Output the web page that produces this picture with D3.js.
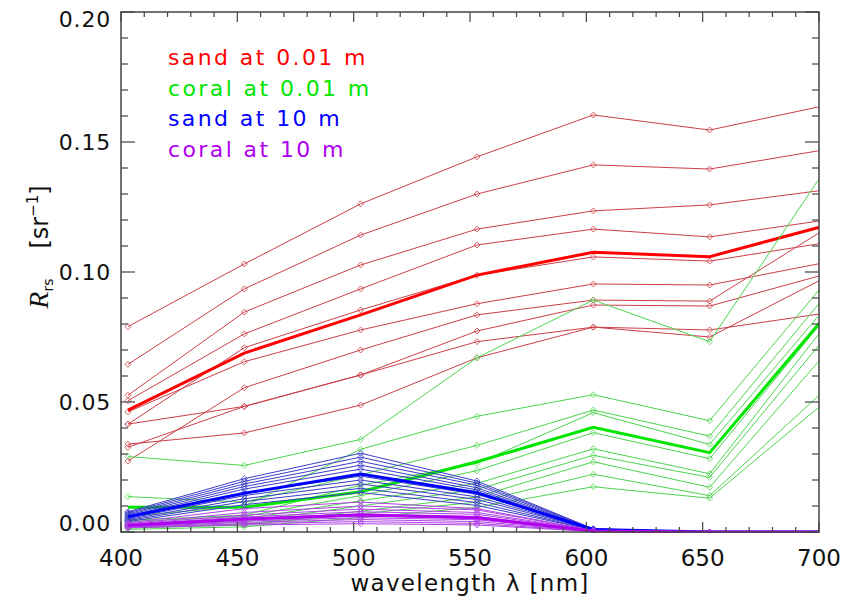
<!DOCTYPE html>
<html>
<head>
<meta charset="utf-8">
<script src="https://cdn.jsdelivr.net/npm/d3@7"></script>
<style>
  body { margin: 0; background: #fff; }
  svg text { font-family: "DejaVu Sans ExtraLight", "DejaVu Sans", sans-serif; }
</style>
</head>
<body>
<svg id="chart" width="845" height="603"></svg>
<script>
// band centres (nm); the last one sits just past the axis and gets clipped
var wavelengths = [403, 453, 503, 553, 603, 653, 703];
var xTicks = [400, 450, 500, 550, 600, 650, 700];
var yTicks = [0.00, 0.05, 0.10, 0.15, 0.20];

// sand at 0.01 m
var sandShallow = [
  [0.0790, 0.1031, 0.1262, 0.1443, 0.1604, 0.1546, 0.1641],
  [0.0645, 0.0935, 0.1142, 0.1300, 0.1412, 0.1396, 0.1471],
  [0.0526, 0.0846, 0.1027, 0.1165, 0.1235, 0.1258, 0.1316],
  [0.0505, 0.0762, 0.0935, 0.1104, 0.1165, 0.1135, 0.1200],
  [0.0415, 0.0709, 0.0854, 0.0988, 0.1058, 0.1042, 0.1113],
  [0.0462, 0.0655, 0.0777, 0.0878, 0.0954, 0.0950, 0.1037],
  [0.0273, 0.0555, 0.0700, 0.0835, 0.0892, 0.0888, 0.1167],
  [0.0415, 0.0483, 0.0604, 0.0773, 0.0873, 0.0869, 0.0992],
  [0.0326, 0.0483, 0.0604, 0.0732, 0.0788, 0.0777, 0.0842],
  [0.0338, 0.0381, 0.0488, 0.0670, 0.0788, 0.0750, 0.0980]
];
var sandShallowMean = [0.0469, 0.0688, 0.0835, 0.0988, 0.1076, 0.1059, 0.1179];

// coral at 0.01 m
var coralShallow = [
  [0.0290, 0.0256, 0.0356, 0.0670, 0.0892, 0.0732, 0.1398],
  [0.0060, 0.0100, 0.0318, 0.0445, 0.0528, 0.0428, 0.0963],
  [0.0136, 0.0115, 0.0220, 0.0333, 0.0469, 0.0369, 0.0911],
  [0.0045, 0.0065, 0.0180, 0.0264, 0.0459, 0.0337, 0.0865],
  [0.0040, 0.0060, 0.0140, 0.0236, 0.0382, 0.0282, 0.0826],
  [0.0030, 0.0050, 0.0120, 0.0187, 0.0320, 0.0224, 0.0797],
  [0.0025, 0.0040, 0.0100, 0.0164, 0.0295, 0.0210, 0.0751],
  [0.0020, 0.0030, 0.0080, 0.0135, 0.0270, 0.0172, 0.0689],
  [0.0015, 0.0027, 0.0070, 0.0115, 0.0222, 0.0140, 0.0550],
  [0.0010, 0.0020, 0.0055, 0.0095, 0.0174, 0.0130, 0.0503]
];
var coralShallowMean = [0.0095, 0.0095, 0.0155, 0.0270, 0.0403, 0.0305, 0.0833];

// sand at 10 m
var sandDeep = [
  [0.0078, 0.0205, 0.0303, 0.0196, 0.0012, 0, 0],
  [0.0074, 0.0195, 0.0288, 0.0188, 0.0012, 0, 0],
  [0.0070, 0.0185, 0.0272, 0.0180, 0.0011, 0, 0],
  [0.0066, 0.0175, 0.0257, 0.0170, 0.0011, 0, 0],
  [0.0062, 0.0165, 0.0242, 0.0162, 0.0010, 0, 0],
  [0.0056, 0.0150, 0.0215, 0.0145, 0.0010, 0, 0],
  [0.0052, 0.0140, 0.0200, 0.0135, 0.0009, 0, 0],
  [0.0048, 0.0128, 0.0185, 0.0125, 0.0009, 0, 0],
  [0.0044, 0.0117, 0.0168, 0.0113, 0.0008, 0, 0],
  [0.0040, 0.0105, 0.0152, 0.0102, 0.0008, 0, 0]
];
var sandDeepMean = [0.0059, 0.0149, 0.0223, 0.0151, 0.0010, 0, 0];

// coral at 10 m
var coralDeep = [
  [0.0035, 0.0090, 0.0115, 0.0090, 0.0006, 0, 0],
  [0.0032, 0.0075, 0.0100, 0.0085, 0.0006, 0, 0],
  [0.0030, 0.0065, 0.0088, 0.0075, 0.0005, 0, 0],
  [0.0028, 0.0058, 0.0078, 0.0068, 0.0005, 0, 0],
  [0.0026, 0.0052, 0.0070, 0.0060, 0.0004, 0, 0],
  [0.0024, 0.0047, 0.0062, 0.0053, 0.0004, 0, 0],
  [0.0022, 0.0042, 0.0055, 0.0047, 0.0003, 0, 0],
  [0.0020, 0.0037, 0.0048, 0.0040, 0.0003, 0, 0],
  [0.0018, 0.0032, 0.0040, 0.0033, 0.0002, 0, 0],
  [0.0016, 0.0027, 0.0032, 0.0027, 0.0002, 0, 0]
];
var coralDeepMean = [0.0025, 0.0050, 0.0065, 0.0055, 0.0004, 0, 0];

var legendLabels = ["sand at 0.01 m", "coral at 0.01 m", "sand at 10 m", "coral at 10 m"];

var groups = [
  {thin: sandShallow, mean: sandShallowMean, thinColor: "#cc3f48", color: "#ff0000"},
  {thin: coralShallow, mean: coralShallowMean, thinColor: "#4cd44c", color: "#00e600"},
  {thin: sandDeep, mean: sandDeepMean, thinColor: "#3c3cc8", color: "#0000ff"},
  {thin: coralDeep, mean: coralDeepMean, thinColor: "#b040e8", color: "#b000f0"}
];

var L = 121, R = 819, T = 12, B = 532;
var svg = d3.select("#chart");

var x = d3.scaleLinear().domain([400, 700]).range([L, R]);
var y = d3.scaleLinear().domain([0, 0.2]).range([B, T]);

svg.append("clipPath").attr("id", "plotclip")
  .append("rect").attr("x", L).attr("y", T - 2).attr("width", R - L).attr("height", B - T + 3);

var plot = svg.append("g").attr("clip-path", "url(#plotclip)");

var line = d3.line()
  .x(function(d, i) { return x(wavelengths[i]); })
  .y(function(d) { return y(d); });

groups.forEach(function(gr) {
  var g = plot.append("g");
  gr.thin.forEach(function(s) {
    g.append("path").attr("d", line(s))
      .attr("fill", "none").attr("stroke", gr.thinColor).attr("stroke-width", 1);
    g.selectAll(null).data(s).enter().append("path")
      .attr("d", "M0,-3L3,0L0,3L-3,0Z")
      .attr("transform", function(d, i) { return "translate(" + x(wavelengths[i]) + "," + y(d) + ")"; })
      .attr("fill", "none").attr("stroke", gr.thinColor).attr("stroke-width", 0.8);
  });
  g.append("path").attr("d", line(gr.mean))
    .attr("fill", "none").attr("stroke", gr.color).attr("stroke-width", 3);
});

// frame and ticks
var axisColor = "#444";
svg.append("rect").attr("x", L).attr("y", T).attr("width", R - L).attr("height", B - T)
  .attr("fill", "none").attr("stroke", axisColor).attr("stroke-width", 1.5);

var ax = svg.append("g").attr("stroke", axisColor).attr("stroke-width", 1.2);
d3.range(400, 701, 10).forEach(function(v) {
  var len = v % 50 === 0 ? 10 : 5;
  ax.append("line").attr("x1", x(v)).attr("x2", x(v)).attr("y1", B).attr("y2", B - len);
  ax.append("line").attr("x1", x(v)).attr("x2", x(v)).attr("y1", T).attr("y2", T + len);
});
d3.range(0, 21).forEach(function(k) {
  var len = k % 5 === 0 ? 14 : 7;
  var yy = y(k / 100);
  ax.append("line").attr("x1", L).attr("x2", L + len).attr("y1", yy).attr("y2", yy);
  ax.append("line").attr("x1", R).attr("x2", R - len).attr("y1", yy).attr("y2", yy);
});

svg.selectAll(".xt").data(xTicks).enter().append("text")
  .attr("x", function(d) { return x(d); }).attr("y", 566)
  .attr("text-anchor", "middle").attr("font-size", 23).attr("fill", "#111")
  .text(function(d) { return d; });

svg.selectAll(".yt").data(yTicks).enter().append("text")
  .attr("x", 111)
  .attr("y", function(d) {
    if (d === 0) return y(d) - 1;
    if (d === 0.2) return y(d) + 15;
    return y(d) + 8;
  })
  .attr("text-anchor", "end").attr("font-size", 22).attr("letter-spacing", 0.8).attr("fill", "#111")
  .text(function(d) { return d.toFixed(2); });

svg.append("text").attr("x", 470).attr("y", 591).attr("text-anchor", "middle")
  .attr("font-size", 23).attr("letter-spacing", 1.3).attr("fill", "#111").text("wavelength λ [nm]");

var yl = svg.append("text").attr("transform", "translate(48,247) rotate(-90)")
  .attr("text-anchor", "middle").attr("font-size", 24).attr("fill", "#111");
yl.append("tspan").attr("font-style", "italic").attr("font-family", "Liberation Serif, serif").attr("font-size", 28).text("R");
yl.append("tspan").attr("font-size", 14).attr("dy", 5).text("rs");
yl.append("tspan").attr("dy", -5).attr("dx", 30).text("[sr");
yl.append("tspan").attr("font-size", 15).attr("dy", -10).text("−1");
yl.append("tspan").attr("dy", 10).text("]");

svg.selectAll(".leg").data(legendLabels).enter().append("text")
  .attr("x", 168).attr("y", function(d, i) { return 65 + i * 30.5; })
  .attr("font-size", 22).attr("letter-spacing", 2.4)
  .attr("fill", function(d, i) { return groups[i].color; })
  .text(function(d) { return d; });
</script>
</body>
</html>
